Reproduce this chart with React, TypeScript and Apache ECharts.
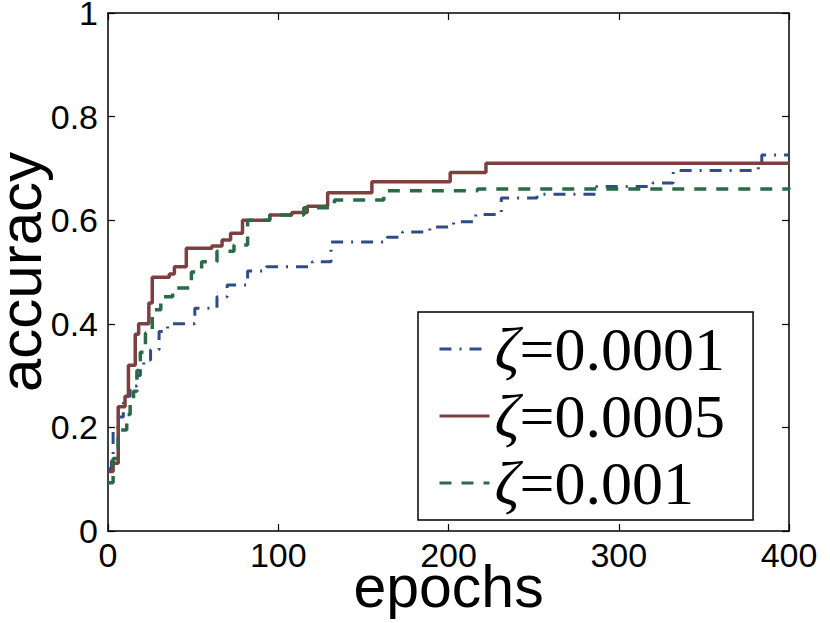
import React, { useEffect, useRef } from "react";
import * as echarts from "echarts";

const seriesNames = ["ζ=0.0001", "ζ=0.0005", "ζ=0.001"];
const seriesColors = ["#2f4c8a", "#7e3f3f", "#2b6a47"];

const blueEpochs = [0, 2, 3, 6, 9, 13, 17, 19, 21, 25, 30, 35, 51, 64, 70, 82, 93, 120, 131, 164, 173, 189, 203, 216, 231, 252, 287, 320, 332, 382, 384, 400];
const blueAcc = [0.12, 0.145, 0.2, 0.22, 0.26, 0.28, 0.3, 0.315, 0.33, 0.35, 0.385, 0.4, 0.43, 0.452, 0.475, 0.502, 0.51, 0.52, 0.558, 0.567, 0.577, 0.587, 0.597, 0.611, 0.643, 0.65, 0.665, 0.672, 0.696, 0.71, 0.726, 0.726];

const redEpochs = [0, 3, 6, 10, 12, 16, 18, 24, 26, 36, 39, 46, 61, 67, 72, 79, 95, 108, 117, 129, 155, 201, 222, 400];
const redAcc = [0.115, 0.131, 0.24, 0.26, 0.32, 0.38, 0.4, 0.44, 0.49, 0.496, 0.51, 0.546, 0.55, 0.562, 0.575, 0.6, 0.61, 0.615, 0.627, 0.653, 0.674, 0.692, 0.71, 0.71];

const greenEpochs = [0, 3, 6, 11, 13, 15, 17, 19, 22, 26, 31, 38, 49, 55, 64, 74, 82, 95, 115, 133, 162, 217, 400];
const greenAcc = [0.093, 0.14, 0.195, 0.225, 0.25, 0.27, 0.31, 0.345, 0.382, 0.427, 0.452, 0.469, 0.5, 0.52, 0.54, 0.552, 0.6, 0.61, 0.624, 0.639, 0.657, 0.66, 0.662];

const xTicks = [0, 100, 200, 300, 400];
const yTicks = [0, 0.2, 0.4, 0.6, 0.8, 1];

const zip = (xs: number[], ys: number[]) => xs.map((x, i) => [x, ys[i]]);

export default function App() {
  const ref = useRef<HTMLDivElement>(null);
  useEffect(() => {
    if (!ref.current) return;
    const chart = echarts.init(ref.current, null, { renderer: "svg" });
    const sans = "Liberation Sans, Arial, Helvetica, sans-serif";
    const serif = "Liberation Serif, Times New Roman, serif";
    const axisCommon = {
      axisLine: { show: true, onZero: false, lineStyle: { color: "#000", width: 1.5 } },
      axisTick: { show: true, inside: true, length: 7, lineStyle: { color: "#000", width: 1.2 } },
      splitLine: { show: false },
    };
    const lineTypes: any[] = [[12, 8, 2, 8], "solid", [12, 10]];
    const widths = [3, 3.5, 3.5];
    const datas = [zip(blueEpochs, blueAcc), zip(redEpochs, redAcc), zip(greenEpochs, greenAcc)];
    chart.setOption({
      animation: false,
      backgroundColor: "#fff",
      grid: { left: 108, right: 41, top: 13, bottom: 92, containLabel: false, outerBoundsMode: "none" },
      xAxis: [
        {
          type: "value",
          min: xTicks[0],
          max: xTicks[xTicks.length - 1],
          interval: 100,
          position: "bottom",
          name: "epochs",
          nameLocation: "middle",
          nameGap: 26,
          nameMoveOverlap: false,
          nameTextStyle: { fontSize: 59, fontFamily: sans, color: "#000" },
          axisLabel: { fontSize: 34, fontFamily: sans, color: "#000", margin: 7 },
          ...axisCommon,
        },
        {
          type: "value",
          min: xTicks[0],
          max: xTicks[xTicks.length - 1],
          interval: 100,
          position: "top",
          axisLabel: { show: false },
          ...axisCommon,
        },
      ],
      yAxis: [
        {
          type: "value",
          min: yTicks[0],
          max: yTicks[yTicks.length - 1],
          interval: 0.2,
          position: "left",
          name: "accuracy",
          nameLocation: "middle",
          nameGap: 58,
          nameMoveOverlap: false,
          nameTextStyle: { fontSize: 60, fontFamily: sans, color: "#000" },
          axisLabel: { fontSize: 34, fontFamily: sans, color: "#000", margin: 10 },
          ...axisCommon,
        },
        {
          type: "value",
          min: yTicks[0],
          max: yTicks[yTicks.length - 1],
          interval: 0.2,
          position: "right",
          axisLabel: { show: false },
          ...axisCommon,
        },
      ],
      legend: {
        show: true,
        orient: "vertical",
        left: 418,
        top: 312,
        data: seriesNames,
        itemWidth: 50,
        itemHeight: 4,
        itemGap: 5,
        padding: [6, 28, 6, 20],
        backgroundColor: "#fff",
        borderColor: "#000",
        borderWidth: 1.5,
        borderRadius: 0,
        itemStyle: { opacity: 0 },
        lineStyle: { width: 3 },
        formatter: (name: string) => `{z|ζ}{t|${name.slice(1)}}`,
        textStyle: {
          color: "#000",
          fontSize: 62,
          fontFamily: serif,
          lineHeight: 58,
          rich: {
            z: { fontStyle: "italic", fontSize: 62, fontFamily: serif, color: "#000", lineHeight: 58 },
            t: { fontSize: 62, fontFamily: serif, color: "#000", lineHeight: 58 },
          },
        },
      },
      series: seriesNames.map((name, i) => ({
        name,
        type: "line",
        step: "end",
        xAxisIndex: 0,
        yAxisIndex: 0,
        symbol: "none",
        showSymbol: false,
        data: datas[i],
        color: seriesColors[i],
        lineStyle: { color: seriesColors[i], width: widths[i], type: lineTypes[i] },
        z: 2 + i,
      })),
    });
    return () => chart.dispose();
  }, []);
  return <div ref={ref} style={{ position: "absolute", left: 0, top: 0, width: 830, height: 623 }} />;
}
